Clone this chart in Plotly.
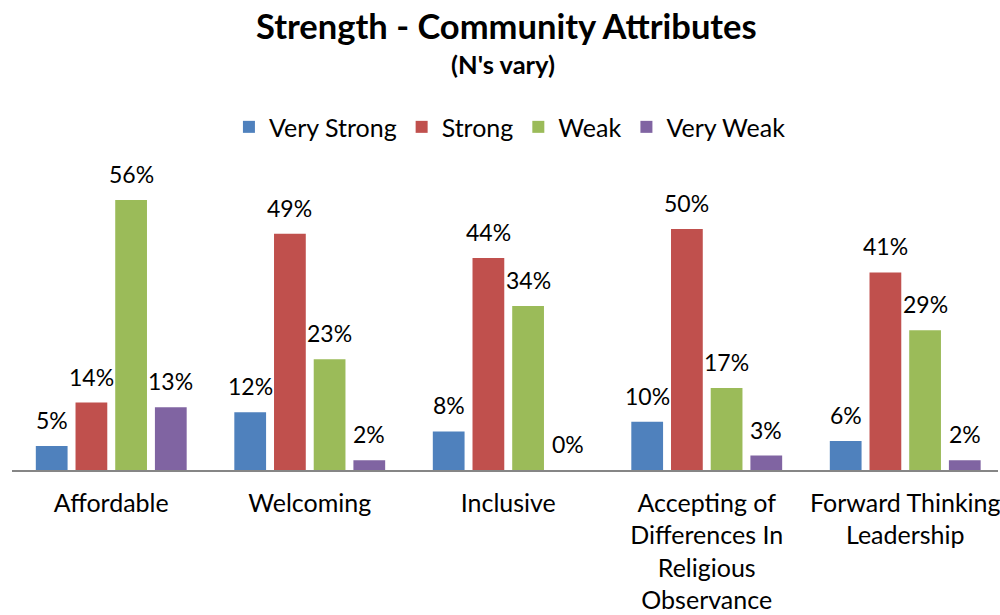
import plotly.graph_objects as go

categories = [
    "Affordable",
    "Welcoming",
    "Inclusive",
    "Accepting of<br>Differences In<br>Religious<br>Observance",
    "Forward Thinking<br>Leadership",
]
series_names = ["Very Strong", "Strong", "Weak", "Very Weak"]
very_strong = [5, 12, 8, 10, 6]
strong = [14, 49, 44, 50, 41]
weak = [56, 23, 34, 17, 29]
very_weak = [13, 2, 0, 3, 2]
series_values = [very_strong, strong, weak, very_weak]
colors = ["#4F81BD", "#C0504D", "#9BBB59", "#8064A2"]

FONT = "Lato"
BAR_GAP = 0.2
n_series = len(series_values)
slot = (1 - BAR_GAP) / n_series

fig = go.Figure()
idx = list(range(len(categories)))
for name, vals, col in zip(series_names, series_values, colors):
    fig.add_trace(go.Bar(
        x=idx, y=vals, name=name,
        marker=dict(color=col, line=dict(width=0)),
    ))

# value labels above each bar
annotations = []
for i, vals in enumerate(series_values):
    for j, v in enumerate(vals):
        annotations.append(dict(
            x=j + (i - (n_series - 1) / 2) * slot, y=v,
            xref="x", yref="y", text=f"{v}%", showarrow=False,
            yanchor="bottom", yshift=10,
            font=dict(family=FONT, size=23, color="#000000"),
        ))

# title and subtitle
annotations.append(dict(
    x=0.502, y=1.483, xref="paper", yref="paper", showarrow=False,
    text="<b>Strength - Community Attributes</b>", yanchor="middle",
    font=dict(family=FONT, size=34.5, color="#000000"),
))
annotations.append(dict(
    x=0.498, y=1.355, xref="paper", yref="paper", showarrow=False,
    text="<b>(N's vary)</b>", yanchor="middle",
    font=dict(family=FONT, size=25.5, color="#000000"),
))

fig.update_layout(
    width=1000, height=615,
    margin=dict(l=11.5, r=0, t=170, b=145),
    paper_bgcolor="white", plot_bgcolor="white",
    barmode="group", bargap=BAR_GAP, bargroupgap=0.2,
    font=dict(family=FONT, size=23, color="#000000"),
    showlegend=True,
    legend=dict(
        orientation="h", x=0.505, xanchor="center", y=1.143, yanchor="middle",
        font=dict(family=FONT, size=25, color="#000000"),
        itemwidth=30, traceorder="normal",
    ),
    annotations=annotations,
    xaxis=dict(
        tickmode="array", tickvals=idx, ticktext=categories,
        range=[-0.5, -0.5 + 988.5 / 199.0],
        showline=True, linecolor="#868686", linewidth=1.5,
        showgrid=False, zeroline=False, ticks="",
        ticklabelstandoff=10, ticklabeloverflow="allow",
        tickfont=dict(family=FONT, size=25, color="#000000"),
    ),
    yaxis=dict(
        range=[0, 300 / 4.82], visible=False, showgrid=False, zeroline=False,
    ),
)

fig.write_html("out.html")
